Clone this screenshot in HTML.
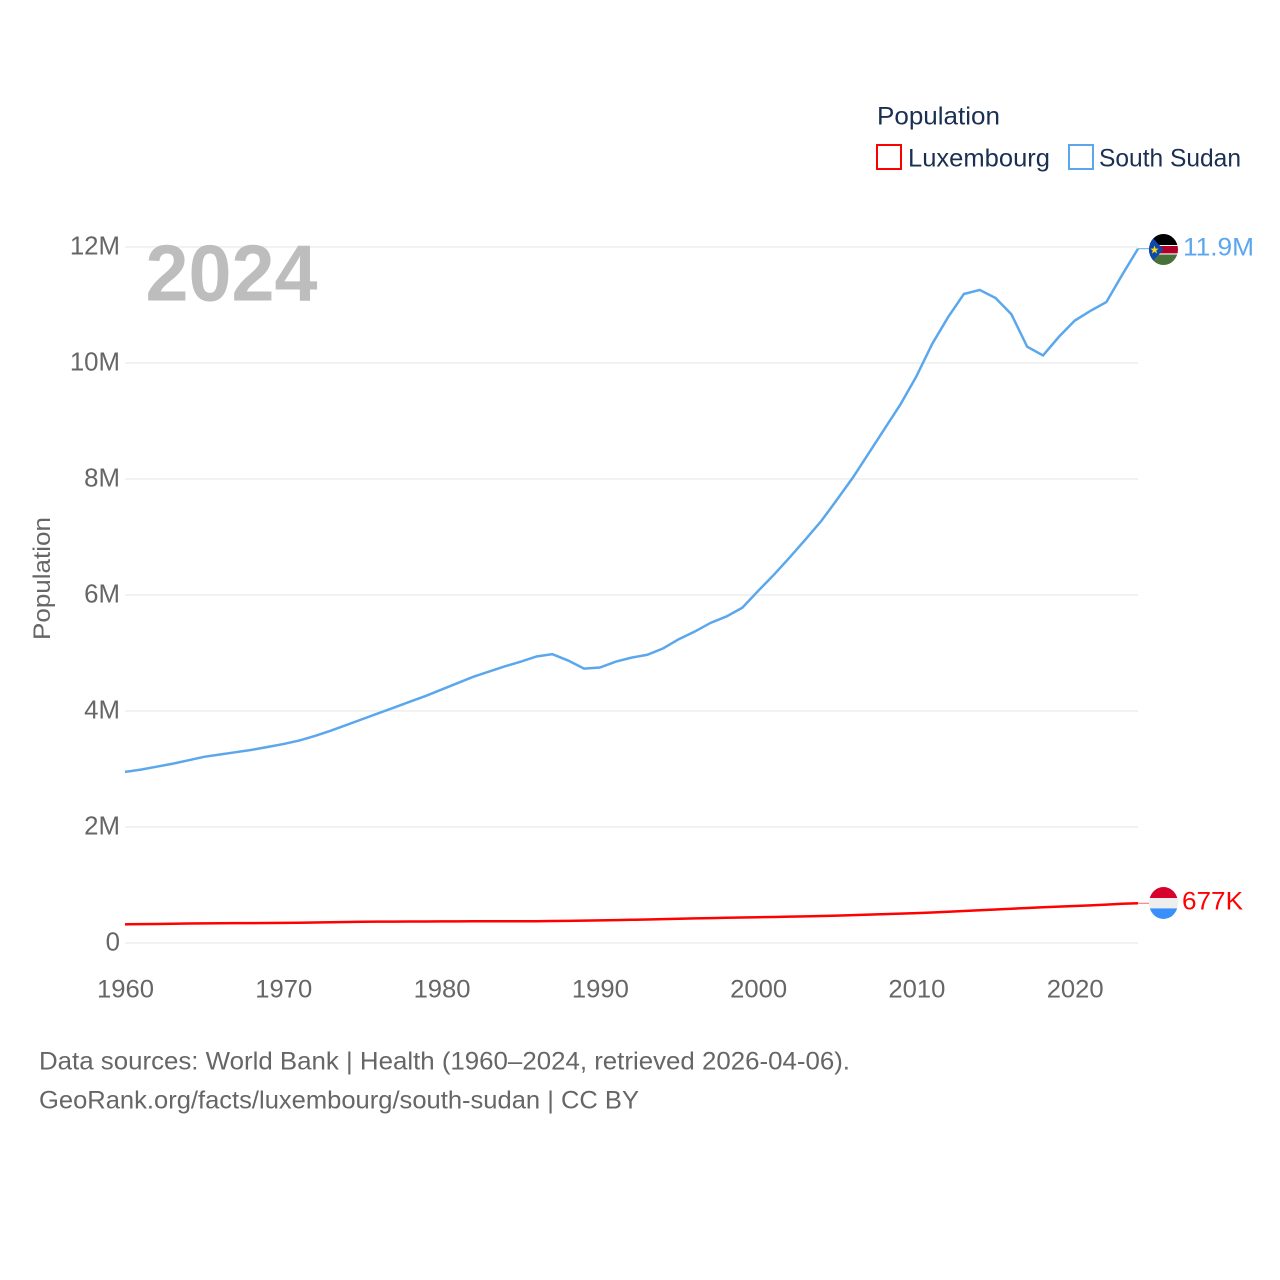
<!DOCTYPE html>
<html lang="en">
<head>
<meta charset="utf-8">
<title>Population: Luxembourg and South Sudan</title>
<style>
html,body{margin:0;padding:0;background:#fff;}
svg{display:block;font-family:"Liberation Sans",sans-serif;}
</style>
</head>
<body>
<svg id="chart" xmlns="http://www.w3.org/2000/svg" width="1280" height="1280" viewBox="0 0 1280 1280">
  <defs>
    <clipPath id="ss-clip"><ellipse cx="1163.5" cy="249.5" rx="14.5" ry="15.5"/></clipPath>
    <clipPath id="lu-clip"><ellipse cx="1163.5" cy="903" rx="14.5" ry="16"/></clipPath>
  </defs>
  <rect width="1280" height="1280" fill="#ffffff"/>
  <g id="grid"></g>
  <g id="ticks"></g>
  <text x="145.5" y="300.5" font-size="80" font-weight="700" fill="#bdbdbd" textLength="172" lengthAdjust="spacingAndGlyphs">2024</text>
  <text transform="translate(50,640) rotate(-90)" font-size="24.5" fill="#666666" textLength="123" lengthAdjust="spacingAndGlyphs">Population</text>

  <g id="series"></g>

  <g clip-path="url(#ss-clip)">
    <rect x="1149" y="234" width="29" height="11" fill="#000000"/>
    <rect x="1149" y="245" width="29" height="9.5" fill="#ffffff"/>
    <rect x="1149" y="246" width="29" height="7.4" fill="#b0002a"/>
    <rect x="1149" y="254.5" width="29" height="11" fill="#47703a"/>
    <polygon points="1149,234 1163.5,249.5 1149,265" fill="#0f47af"/>
    <polygon points="1154.5,245.5 1155.6,248.6 1158.6,248.6 1156.2,250.6 1157.1,253.6 1154.5,251.8 1151.9,253.6 1152.8,250.6 1150.4,248.6 1153.4,248.6" fill="#fcdd09"/>
  </g>
  <g clip-path="url(#lu-clip)">
    <rect x="1149" y="887" width="29" height="11" fill="#d8002c"/>
    <rect x="1149" y="898" width="29" height="10.4" fill="#eeeeee"/>
    <rect x="1149" y="908.4" width="29" height="11" fill="#3a8ffa"/>
  </g>
  <text x="1183" y="255.5" font-size="25" fill="#5ba7ee" textLength="71" lengthAdjust="spacingAndGlyphs">11.9M</text>
  <text x="1182" y="909.5" font-size="25" fill="#ff0000" textLength="61" lengthAdjust="spacingAndGlyphs">677K</text>

  <g>
    <text x="877" y="124.5" font-size="25" fill="#1a2f52" textLength="123" lengthAdjust="spacingAndGlyphs">Population</text>
    <g>
      <rect x="877" y="145" width="24" height="24" fill="#ffffff" stroke="#ff0000" stroke-width="2"/>
      <text x="908" y="166.5" font-size="25" fill="#1a2f52" textLength="142" lengthAdjust="spacingAndGlyphs">Luxembourg</text>
    </g>
    <g>
      <rect x="1069" y="145" width="24" height="24" fill="#ffffff" stroke="#5ba7ee" stroke-width="2"/>
      <text x="1099" y="166.5" font-size="25" fill="#1a2f52" textLength="142" lengthAdjust="spacingAndGlyphs">South Sudan</text>
    </g>
  </g>

  <text x="39" y="1069.5" font-size="25" fill="#666666" textLength="811" lengthAdjust="spacingAndGlyphs">Data sources: World Bank | Health (1960–2024, retrieved 2026-04-06).</text>
  <text x="39" y="1108.5" font-size="25" fill="#666666" textLength="600" lengthAdjust="spacingAndGlyphs">GeoRank.org/facts/luxembourg/south-sudan | CC BY</text>
</svg>
<script>
const startYear = 1960;
const southSudan = [2.95,2.99,3.04,3.09,3.15,3.21,3.25,3.29,3.33,3.38,3.43,3.49,3.57,3.66,3.76,3.86,3.96,4.06,4.16,4.26,4.37,4.48,4.59,4.68,4.77,4.85,4.94,4.98,4.87,4.73,4.75,4.85,4.92,4.97,5.08,5.24,5.37,5.52,5.63,5.78,6.07,6.35,6.65,6.96,7.28,7.65,8.03,8.45,8.87,9.29,9.77,10.33,10.79,11.19,11.26,11.12,10.84,10.28,10.13,10.45,10.73,10.90,11.05,11.52,11.97];
const luxembourg = [0.322,0.325,0.328,0.332,0.336,0.339,0.341,0.343,0.343,0.344,0.347,0.350,0.354,0.358,0.363,0.367,0.369,0.369,0.370,0.371,0.372,0.373,0.374,0.374,0.374,0.375,0.376,0.379,0.382,0.386,0.390,0.395,0.400,0.406,0.412,0.418,0.424,0.429,0.435,0.440,0.444,0.449,0.454,0.460,0.466,0.473,0.481,0.489,0.497,0.507,0.515,0.526,0.539,0.551,0.564,0.578,0.591,0.604,0.616,0.628,0.638,0.648,0.662,0.676,0.685];
const yTickValues = [0,2,4,6,8,10,12];
const yTickLabels = ["0","2M","4M","6M","8M","10M","12M"];
const xTickValues = [1960,1970,1980,1990,2000,2010,2020];

const NS = "http://www.w3.org/2000/svg";
function xScale(year){ return 125 + (year - 1960) * (1138 - 125) / 64; }
function yScale(v){ return 943 - v * (943 - 247) / 12; }

const grid = document.getElementById("grid");
const ticks = document.getElementById("ticks");
const series = document.getElementById("series");

yTickValues.forEach(function(v, i){
  const line = document.createElementNS(NS, "line");
  
  
  line.setAttribute("x1", 125);
  line.setAttribute("x2", 1138);
  line.setAttribute("y1", yScale(v));
  line.setAttribute("y2", yScale(v));
  line.setAttribute("stroke", "#eeeeee");
  line.setAttribute("stroke-width", "1.5");
  grid.appendChild(line);

  const t = document.createElementNS(NS, "text");
  
  
  t.setAttribute("x", 120);
  t.setAttribute("y", yScale(v) + 7.5);
  t.setAttribute("text-anchor", "end");
  t.setAttribute("font-size", "25.8");
  t.setAttribute("fill", "#666666");
  t.textContent = yTickLabels[i];
  ticks.appendChild(t);
});

xTickValues.forEach(function(year){
  const t = document.createElementNS(NS, "text");
  
  
  t.setAttribute("x", xScale(year) + 0.5);
  t.setAttribute("y", 997.5);
  t.setAttribute("text-anchor", "middle");
  t.setAttribute("font-size", "25");
  t.setAttribute("fill", "#666666");
  t.setAttribute("textLength", "57");
  t.setAttribute("lengthAdjust", "spacingAndGlyphs");
  t.textContent = String(year);
  ticks.appendChild(t);
});

function pathFor(values){
  return values.map(function(v, i){
    return (i ? "L" : "M") + xScale(startYear + i).toFixed(2) + " " + yScale(v).toFixed(2);
  }).join(" ");
}

const luxLine = document.createElementNS(NS, "path");


luxLine.setAttribute("d", pathFor(luxembourg));
luxLine.setAttribute("fill", "none");
luxLine.setAttribute("stroke", "#ff0000");
luxLine.setAttribute("stroke-width", "2.5");
series.appendChild(luxLine);

const ssLine = document.createElementNS(NS, "path");


ssLine.setAttribute("d", pathFor(southSudan));
ssLine.setAttribute("fill", "none");
ssLine.setAttribute("stroke", "#5ba7ee");
ssLine.setAttribute("stroke-width", "2.5");
series.appendChild(ssLine);

const ssLeader = document.createElementNS(NS, "line");


ssLeader.setAttribute("x1", xScale(2024));
ssLeader.setAttribute("x2", 1149);
ssLeader.setAttribute("y1", yScale(southSudan[southSudan.length - 1]));
ssLeader.setAttribute("y2", yScale(southSudan[southSudan.length - 1]));
ssLeader.setAttribute("stroke", "#5ba7ee");
ssLeader.setAttribute("stroke-width", "1");
series.appendChild(ssLeader);

const luLeader = document.createElementNS(NS, "line");


luLeader.setAttribute("x1", xScale(2024));
luLeader.setAttribute("x2", 1149);
luLeader.setAttribute("y1", yScale(luxembourg[luxembourg.length - 1]));
luLeader.setAttribute("y2", yScale(luxembourg[luxembourg.length - 1]));
luLeader.setAttribute("stroke", "#ff6a6a");
luLeader.setAttribute("stroke-width", "1");
series.appendChild(luLeader);
</script>
</body>
</html>
